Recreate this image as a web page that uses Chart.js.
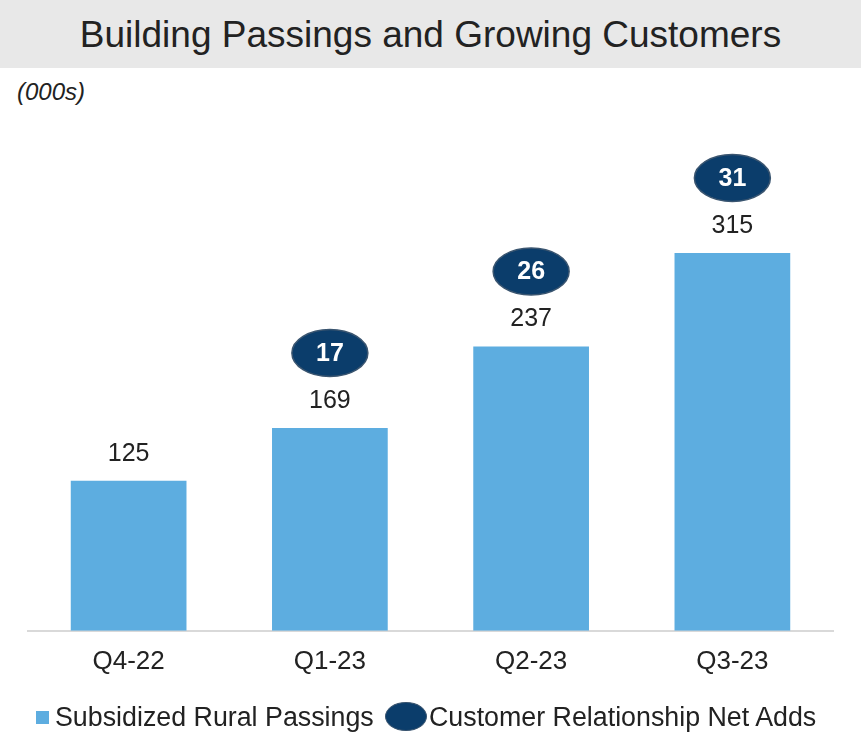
<!DOCTYPE html>
<html>
<head>
<meta charset="utf-8">
<script src="https://cdn.jsdelivr.net/npm/chart.js@4"></script>
<style>
  body { margin: 0; background: #fff; font-family: "Liberation Sans", Arial, sans-serif; color: #222; }
  #wrap { position: relative; width: 861px; height: 732px; overflow: hidden; }
  #head { position: absolute; left: 0; top: 0; width: 861px; height: 68px; background: #e8e8e8;
          text-align: center; line-height: 70px; font-size: 37px; }
  #unit { position: absolute; left: 17px; top: 78px; font-size: 24px; font-style: italic; }
  #box { position: absolute; left: 0; top: 68px; width: 861px; height: 639px; }
  .lg { position: absolute; font-size: 26.8px; line-height: 30px; top: 702px; white-space: nowrap; }
  .sq { position: absolute; left: 36px; top: 711px; width: 13px; height: 13px; background: #5dade0; }
  .ov { position: absolute; left: 385px; top: 702px; width: 40px; height: 27px; border-radius: 50%;
        background: #0b3d6b; border: 1px solid #3a5570; }
</style>
</head>
<body>
<div id="wrap">
  <div id="head">Building Passings and Growing Customers</div>
  <div id="unit">(000s)</div>
  <div id="box"><canvas id="c"></canvas></div>
  <div class="sq"></div>
  <div class="lg" style="left:55px">Subsidized Rural Passings</div>
  <div class="ov"></div>
  <div class="lg" style="left:429px">Customer Relationship Net Adds</div>
</div>
<script>
const quarters = ['Q4-22', 'Q1-23', 'Q2-23', 'Q3-23'];
const passings = [125, 169, 237, 315];
const netAdds = [null, 17, 26, 31];

// value labels + navy ovals above the bars
const labelsPlugin = {
  id: 'labels',
  afterDatasetsDraw(chart) {
    const ctx = chart.ctx;
    const bars = chart.getDatasetMeta(0).data;
    ctx.save();
    ctx.textAlign = 'center';
    ctx.textBaseline = 'middle';
    bars.forEach((bar, i) => {
      ctx.fillStyle = '#222';
      ctx.font = '25px "Liberation Sans", Arial, sans-serif';
      ctx.fillText(passings[i], bar.x, bar.y - 27);
      if (netAdds[i] == null) return;
      const cy = bar.y - 75;
      ctx.beginPath();
      ctx.ellipse(bar.x, cy, 38, 23.5, 0, 0, Math.PI * 2);
      ctx.fillStyle = '#0b3d6b';
      ctx.fill();
      ctx.lineWidth = 1.5;
      ctx.strokeStyle = '#3a5570';
      ctx.stroke();
      ctx.fillStyle = '#fff';
      ctx.font = 'bold 25px "Liberation Sans", Arial, sans-serif';
      ctx.fillText(netAdds[i], bar.x, cy + 1);
    });
    ctx.restore();
  }
};

new Chart(document.getElementById('c'), {
  type: 'bar',
  data: {
    labels: quarters,
    datasets: [{
      label: 'Subsidized Rural Passings',
      data: passings,
      backgroundColor: '#5dade0',
      categoryPercentage: 1,
      barPercentage: 0.575
    }]
  },
  options: {
    responsive: true,
    maintainAspectRatio: false,
    animation: false,
    layout: { padding: { left: 28, right: 28, top: 41, bottom: 15 } },
    plugins: { legend: { display: false }, tooltip: { enabled: false } },
    scales: {
      x: {
        grid: { display: false, drawTicks: false },
        border: { display: true, color: '#d9d9d9', width: 2 },
        ticks: { color: '#222', padding: 15, font: { size: 26, family: '"Liberation Sans", Arial, sans-serif' } }
      },
      y: { display: false, min: 0, max: 435 }
    }
  },
  plugins: [labelsPlugin]
});
</script>
</body>
</html>
